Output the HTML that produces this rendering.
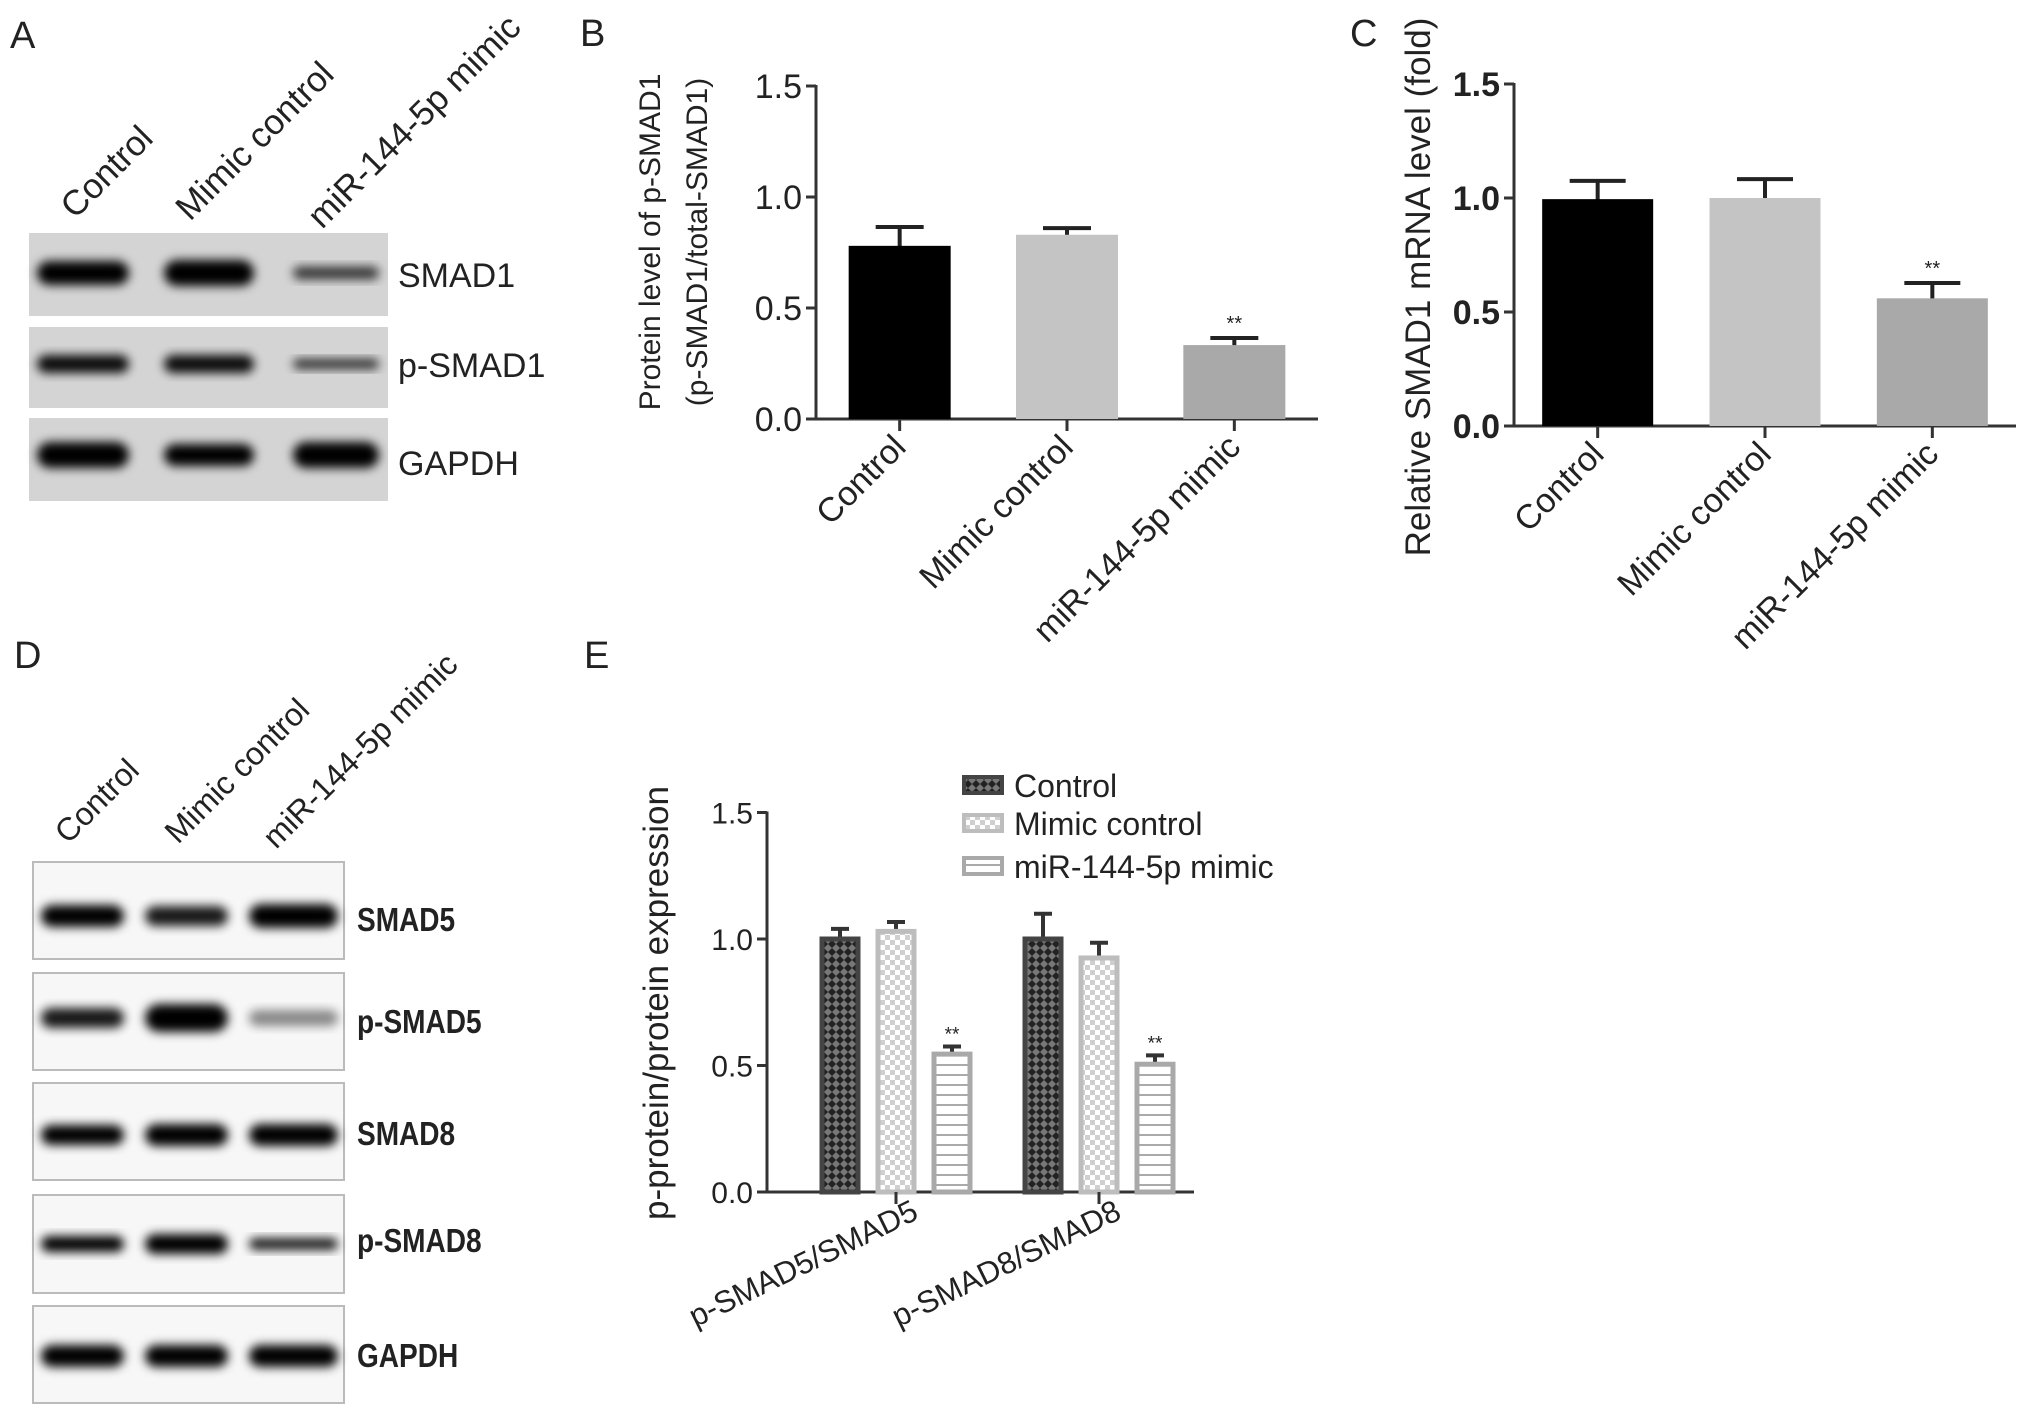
<!DOCTYPE html>
<html><head><meta charset="utf-8"><style>
html,body{margin:0;padding:0;background:#fff}
svg{display:block}
text{font-family:"Liberation Sans",Arial,sans-serif;fill:#222}
</style></head><body>
<svg id="fig" width="2031" height="1420" viewBox="0 0 2031 1420" xmlns="http://www.w3.org/2000/svg">
<defs>
<filter id="blur" x="-20%" y="-50%" width="140%" height="200%"><feGaussianBlur stdDeviation="5"/></filter>
<pattern id="patCtrl" width="8" height="8" patternUnits="userSpaceOnUse"><rect width="8" height="8" fill="#222"/><path d="M0 4L4 0L8 4L4 8Z" fill="#777"/></pattern>
<pattern id="patMim" width="10" height="10" patternUnits="userSpaceOnUse"><rect width="10" height="10" fill="#fff"/><rect width="5" height="5" fill="#cfcfcf"/><rect x="5" y="5" width="5" height="5" fill="#cfcfcf"/></pattern>
<pattern id="patMir" width="10" height="10" patternUnits="userSpaceOnUse"><rect width="10" height="10" fill="#fff"/><rect y="4" width="10" height="2" fill="#aaa"/></pattern>
</defs>
<g id="root"></g>
</svg>
<script>
// ---------- Panel B data ----------
const catB = ["Control", "Mimic control", "miR-144-5p mimic"];
const valB = [0.78, 0.83, 0.333];
const errB = [0.085, 0.03, 0.032];
const sigB = ["", "", "**"];
// ---------- Panel C data ----------
const catC = ["Control", "Mimic control", "miR-144-5p mimic"];
const valC = [0.995, 1.0, 0.56];
const errC = [0.08, 0.083, 0.067];
const sigC = ["", "", "**"];
// ---------- Panel E data ----------
const groupsE = ["p-SMAD5/SMAD5", "p-SMAD8/SMAD8"];
const seriesE = ["Control", "Mimic control", "miR-144-5p mimic"];
const ctrlE = [1.0, 1.0];
const mimE = [1.03, 0.925];
const mirE = [0.545, 0.505];
const ctrlErrE = [0.04, 0.10];
const mimErrE = [0.037, 0.06];
const mirErrE = [0.03, 0.035];
const sigE = ["**", "**"];
const yTicks = ["0.0", "0.5", "1.0", "1.5"];

const NS = "http://www.w3.org/2000/svg";
const root = document.getElementById("root");
function mk(tag, attrs, parent, txt) {
  const e = document.createElementNS(NS, tag);
  for (const k in attrs) e.setAttribute(k, attrs[k]);
  if (txt !== undefined) e.textContent = txt;
  (parent || root).appendChild(e);
  return e;
}

[["A",10,48],["B",580,46],["C",1350,46],["D",14,668],["E",584,668]].forEach(p => {
  const t = mk("text", {x:p[1], y:p[2], "font-size":38}, root, p[0]);
  
  
});

function barChart(cfg) {
  const g = mk("g", {});
  
  
  const y = v => cfg.y0 - v * cfg.pxPer;
  const n = cfg.cats.length;
  const step = (cfg.xEnd - cfg.x0) / n;
  const xc = i => cfg.x0 + step * (i + 0.5);
  const ya = mk("line", {x1:cfg.x0, y1:y(1.5)-1, x2:cfg.x0, y2:cfg.y0, stroke:"#333", "stroke-width":3}, g);
  
  
  yTicks.forEach(t => {
    const v = parseFloat(t);
    mk("line", {x1:cfg.x0-10, y1:y(v), x2:cfg.x0, y2:y(v), stroke:"#333", "stroke-width":3}, g);
    const tl = mk("text", {x:cfg.x0-14, y:y(v)+12, "font-size":34, "text-anchor":"end", "font-weight":cfg.bold?"bold":"normal", fill:"#333"}, g, t);
    
    
  });
  const xa = mk("line", {x1:cfg.x0, y1:cfg.y0, x2:cfg.xEnd, y2:cfg.y0, stroke:"#333", "stroke-width":3}, g);
  
  
  cfg.cats.forEach((c, i) => {
    const cx = xc(i);
    const top = y(cfg.vals[i]);
    const et = y(cfg.vals[i] + cfg.errs[i]);
    mk("line", {x1:cx, y1:et, x2:cx, y2:top+2, stroke:"#222", "stroke-width":4}, g);
    mk("line", {x1:cx-cfg.cap/2, y1:et, x2:cx+cfg.cap/2, y2:et, stroke:"#222", "stroke-width":4}, g);
    const b = mk("rect", {x:cx-cfg.bw/2, y:top, width:cfg.bw, height:cfg.y0-top, fill:cfg.colors[i]}, g);
    
    
    if (cfg.sig[i]) {
      const s = mk("text", {x:cx, y:et-8, "font-size":20, "text-anchor":"middle", fill:"#666"}, g, cfg.sig[i]);
      
      
    }
    mk("line", {x1:cx, y1:cfg.y0, x2:cx, y2:cfg.y0+12, stroke:"#333", "stroke-width":3}, g);
    const lx = cx + 8, ly = cfg.y0 + 30;
    const tl = mk("text", {x:lx, y:ly, "font-size":34, "text-anchor":"end", fill:"#333", transform:`rotate(-45 ${lx} ${ly})`}, g, c);
    
    
  });
  return g;
}

barChart({name:"chart-b", cats:catB, vals:valB, errs:errB, sig:sigB, x0:816, xEnd:1318, y0:419, pxPer:222, bw:102, cap:48,
  colors:["#000","#c4c4c4","#a9a9a9"], bold:false});
barChart({name:"chart-c", cats:catC, vals:valC, errs:errC, sig:sigC, x0:1514, xEnd:2016, y0:426, pxPer:228, bw:111, cap:56,
  colors:["#000","#c4c4c4","#a9a9a9"], bold:true});

let t;
t = mk("text", {x:660, y:242, "font-size":30, "text-anchor":"middle", fill:"#333", transform:"rotate(-90 660 242)"}, root, "Protein level of p-SMAD1");
 
t = mk("text", {x:707, y:242, "font-size":30, "text-anchor":"middle", fill:"#333", transform:"rotate(-90 707 242)"}, root, "(p-SMAD1/total-SMAD1)");
 
t = mk("text", {x:1430, y:287, "font-size":35, "text-anchor":"middle", fill:"#333", transform:"rotate(-90 1430 287)"}, root, "Relative SMAD1 mRNA level (fold)");
 

(function(){
  const g = mk("g", {});
  
  
  const x0 = 767, xEnd = 1194, y0 = 1192, pxPer = 253;
  const y = v => y0 - v * pxPer;
  const centers = [896, 1099];
  const offs = [-56, 0, 56];
  const fills = ["url(#patCtrl)", "url(#patMim)", "url(#patMir)"];
  const strokes = ["#444", "#bdbdbd", "#a9a9a9"];
  const vals = [ctrlE, mimE, mirE], errs = [ctrlErrE, mimErrE, mirErrE];
  mk("line", {x1:x0, y1:y(1.5)-1, x2:x0, y2:y0, stroke:"#333", "stroke-width":3}, g);
  yTicks.forEach(tk => {
    const v = parseFloat(tk);
    mk("line", {x1:x0-10, y1:y(v), x2:x0, y2:y(v), stroke:"#333", "stroke-width":3}, g);
    const tl = mk("text", {x:x0-14, y:y(v)+11, "font-size":30, "text-anchor":"end", fill:"#333"}, g, tk);
    
    
  });
  mk("line", {x1:x0, y1:y0, x2:xEnd, y2:y0, stroke:"#333", "stroke-width":3}, g);
  groupsE.forEach((grp, gi) => {
    const gc = centers[gi];
    seriesE.forEach((s, si) => {
      const cx = gc + offs[si];
      const v = vals[si][gi], e = errs[si][gi];
      const top = y(v), et = y(v + e);
      mk("line", {x1:cx, y1:et, x2:cx, y2:top, stroke:"#333", "stroke-width":4}, g);
      mk("line", {x1:cx-9, y1:et, x2:cx+9, y2:et, stroke:"#333", "stroke-width":4}, g);
      const b = mk("rect", {x:cx-18, y:top, width:36, height:y0-top, fill:fills[si], stroke:strokes[si], "stroke-width":5}, g);
      
      
      if (si === 2 && sigE[gi]) {
        const st = mk("text", {x:cx, y:et-6, "font-size":19, "text-anchor":"middle", fill:"#666"}, g, sigE[gi]);
        
        
      }
    });
    mk("line", {x1:gc, y1:y0, x2:gc, y2:y0+12, stroke:"#333", "stroke-width":3}, g);
    const lx = gc + 24, ly = y0 + 26;
    const tl = mk("text", {x:lx, y:ly, "font-size":31, "text-anchor":"end", fill:"#333", transform:`rotate(-26 ${lx} ${ly})`}, g, grp);
    
    
  });
  const ly = [797, 835, 878];
  seriesE.forEach((s, si) => {
    const sw = mk("rect", {x:964, y:ly[si]-20, width:38, height:16, fill:fills[si], stroke:strokes[si], "stroke-width":4}, g);
    
    
    const lt = mk("text", {x:1014, y:ly[si], "font-size":32, fill:"#333"}, g, s);
    
    
  });
  const yt = mk("text", {x:668, y:1003, "font-size":35, "text-anchor":"middle", fill:"#333", transform:"rotate(-90 668 1003)"}, g, "p-protein/protein expression");
  
  
})();

function blot(cfg) {
  const g = mk("g", {});
  
  
  cfg.rows.forEach(r => {
    const rr = mk("rect", {x:cfg.x, y:r.y, width:cfg.w, height:r.h, fill:cfg.bg, stroke:cfg.border, "stroke-width":2}, g);
    
    
    r.bands.forEach((bw, i) => {
      const lane = cfg.lanes[i];
      mk("rect", {x:lane[0], y:r.by - bw[1]/2, width:lane[1]-lane[0], height:bw[1], rx:bw[1]/2, fill:"#000", opacity:bw[0], filter:"url(#blur)"}, g);
    });
    const lt = mk("text", {x:cfg.lx, y:r.ly, "font-size":cfg.fs, fill:"#222", "font-weight":cfg.bold?"bold":"normal", transform:cfg.cond?`translate(${cfg.lx} 0) scale(0.85 1) translate(${-cfg.lx} 0)`:""}, g, r.label);
    
    
  });
  cfg.heads.forEach(h => {
    const ht = mk("text", {x:h[1], y:h[2], "font-size":cfg.hfs, fill:"#222", transform:`rotate(-45 ${h[1]} ${h[2]})`}, g, h[0]);
    
    
  });
}
blot({name:"blot-panel-a", x:28, w:361, bg:"#d4d4d4", border:"#fff", lx:398, fs:34, bold:false, cond:false, hfs:35,
  lanes:[[37,129],[164,254],[293,379]],
  heads:[["Control",75,220],["Mimic control",190,222],["miR-144-5p mimic",322,230]],
  rows:[
    {label:"SMAD1", y:232, h:85, by:273, ly:287, bands:[[1,24],[1,26],[0.75,13]]},
    {label:"p-SMAD1", y:326, h:83, by:364, ly:377, bands:[[0.95,18],[0.95,18],[0.8,10]]},
    {label:"GAPDH", y:417, h:85, by:455, ly:475, bands:[[1,26],[1,22],[1,26]]}
  ]});
blot({name:"blot-panel-d", x:33, w:311, bg:"#f7f7f7", border:"#bbb", lx:357, fs:33, bold:true, cond:true, hfs:32,
  lanes:[[41,124],[145,228],[249,338]],
  heads:[["Control",68,845],["Mimic control",178,845],["miR-144-5p mimic",276,850]],
  rows:[
    {label:"SMAD5", y:862, h:97, by:916, ly:931, bands:[[1,22],[0.9,20],[1,24]]},
    {label:"p-SMAD5", y:973, h:97, by:1018, ly:1033, bands:[[0.9,20],[1,28],[0.45,16]]},
    {label:"SMAD8", y:1083, h:97, by:1135, ly:1145, bands:[[1,20],[1,22],[1,22]]},
    {label:"p-SMAD8", y:1195, h:98, by:1244, ly:1252, bands:[[1,16],[1,20],[0.9,12]]},
    {label:"GAPDH", y:1306, h:97, by:1356, ly:1367, bands:[[1,22],[1,22],[1,22]]}
  ]});
</script>
</body></html>
